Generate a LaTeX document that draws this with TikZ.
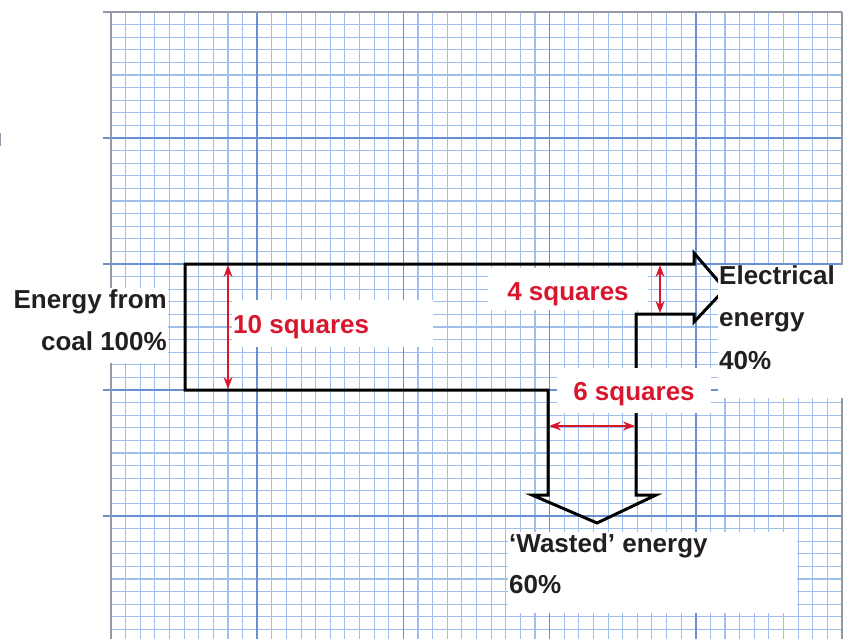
\documentclass[tikz,border=0pt]{standalone}
\usepackage{fontspec}
\setmainfont{Liberation Sans}
\usepackage{xcolor}
\usetikzlibrary{arrows.meta,positioning}

\definecolor{gridminor}{RGB}{158,190,236}
\definecolor{gridmajor}{RGB}{105,145,210}
\definecolor{gridedge}{RGB}{150,152,165}
\definecolor{inkdark}{RGB}{35,31,32}
\definecolor{dimred}{RGB}{216,22,46}

\begin{document}
\begin{tikzpicture}[x=1pt,y=-1pt,
  patch/.style={rectangle,fill=white,inner sep=0pt,anchor=north west},
  lbl/.style={font=\fontsize{26}{42}\selectfont\bfseries,text=inkdark,inner sep=0pt},
  dimlbl/.style={lbl,text=dimred},
  flow/.style={draw=black,line width=3pt,line join=miter},
  dim/.style={{Stealth[length=12pt,width=9pt]}-{Stealth[length=12pt,width=9pt]},dimred,line width=1.4pt}
]
  \useasboundingbox[fill=white] (0,0) rectangle (851,639);

  % graph paper
  \foreach \i in {0,...,50}
    \draw[gridminor,line width=1.1pt] ({111+14.62*\i},12) -- ({111+14.62*\i},639);
  \foreach \j in {0,...,49}
    \draw[gridminor,line width=1.1pt] (111,{12+12.6*\j}) -- (842,{12+12.6*\j});
  \foreach \i in {10,20,30,40}
    \draw[gridmajor,line width=1.5pt] ({111+14.62*\i},12) -- ({111+14.62*\i},639);
  \foreach \j in {1,2,3,4}
    \draw[gridmajor,line width=1.5pt] (103,{12+126*\j}) -- (842,{12+126*\j});
  \draw[gridedge,line width=1.8pt] (103,12) -- (842,12) (111,12) -- (111,639) (842,12) -- (842,639);
  \draw[gridedge,line width=1pt] (0.5,133) -- (0.5,146);

  % energy flow
  \draw[flow] (185,264) -- (694,264) -- (694,253) -- (725,289) -- (694,322) -- (694,314)
    -- (636,314) -- (636,495) -- (656,495) -- (597,523) -- (532,495) -- (548,495)
    -- (548,390) -- (185,390) -- cycle;

  % white patches
  \node[patch,minimum width=156pt,minimum height=75pt] (coalpatch) at (12,288) {};
  \node[patch,minimum width=201pt,minimum height=47pt] (tenpatch) at (232,300) {};
  \node[patch,minimum width=160pt,minimum height=42pt] (fourpatch) at (488,268) {};
  \node[patch,minimum width=154pt,minimum height=45pt] (sixpatch) at (557,368) {};
  \node[patch,minimum width=133pt,minimum height=133pt] (elecpatch) at (718,265) {};
  \node[patch,minimum width=289pt,minimum height=81pt] (wastepatch) at (508,532) {};

  \node[lbl,align=right,anchor=base east] (coal) at (167,350) {Energy from\\coal 100\%};
  \node[dimlbl,anchor=base west] (ten) at (233,333) {10 squares};
  \node[dimlbl,anchor=base] (four) at (568,300) {4 squares};
  \node[dimlbl,anchor=base] (six) at (634,400) {6 squares};
  \node[lbl,align=left,anchor=base west,font=\fontsize{26}{42.5}\selectfont\bfseries] (elec) at (719,369) {Electrical\\energy\\40\%};
  \node[lbl,align=left,anchor=base west,font=\fontsize{26}{41}\selectfont\bfseries] (waste) at (509,593) {‘Wasted’ energy\\60\%};

  % dimension arrows
  \coordinate (tentop) at (228,265);
  \coordinate (tenbot) at (228,389);
  \coordinate (fourtop) at (660,265);
  \coordinate (fourbot) at (660,313);
  \coordinate (sixleft) at (549,426);
  \coordinate (sixright) at (635,426);
  \draw[dim] (tentop) -- (tenbot);
  \draw[dim] (fourtop) -- (fourbot);
  \draw[dim] (sixleft) -- (sixright);
\end{tikzpicture}
\end{document}
